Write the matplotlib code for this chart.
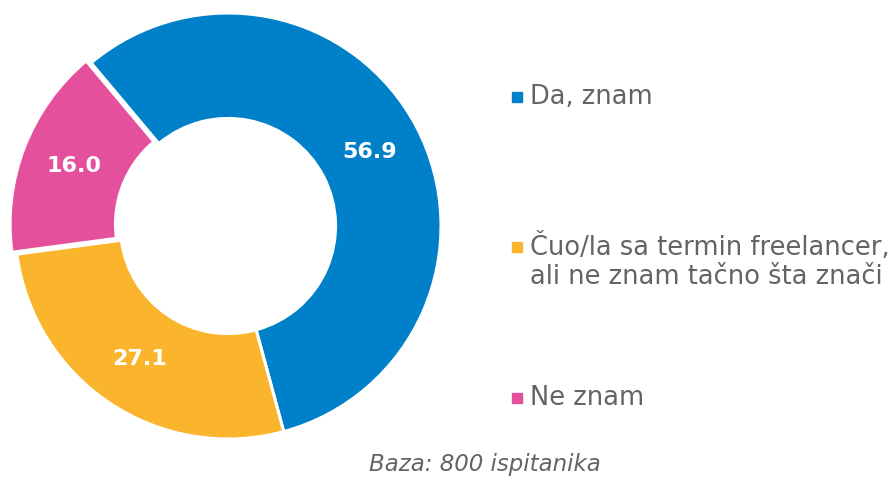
import numpy as np
import matplotlib.pyplot as plt
from matplotlib.patches import Rectangle

# Share of respondents per answer (%)
categories = ['Da, znam',
              'Čuo/la sa termin freelancer,\nali ne znam tačno šta znači',
              'Ne znam']
values = [56.9, 27.1, 16.0]
colors = ['#0080C8', '#FBB52D', '#E4509C']
note = 'Baza: 800 ispitanika'

plt.rcParams['font.family'] = ['DejaVu Sans']
text_gray = '#646464'

fig = plt.figure(figsize=(8.94, 4.78), dpi=100)
ax = fig.add_axes([8 / 894, 32 / 478, 440 / 894, 440 / 478])

R = 213 / 220
wedges, _ = ax.pie(values, colors=colors, startangle=130, counterclock=False,
                   radius=R, explode=[0, 0, 0.024],
                   wedgeprops=dict(width=0.495 * R, edgecolor='white',
                                   linewidth=2.2))
ax.set_xlim(-1, 1)
ax.set_ylim(-1, 1)
ax.set_aspect('equal')
ax.axis('off')

# value labels in the middle of each ring segment
for w, v in zip(wedges, values):
    ang = np.deg2rad((w.theta1 + w.theta2) / 2)
    r = 0.75 * R
    cx, cy = w.center
    ax.text(cx + r * np.cos(ang), cy + r * np.sin(ang), f'{v:.1f}',
            ha='center', va='center', color='white', fontsize=16,
            fontweight='bold')

# legend drawn by hand to keep the uneven spacing
legend_y = [97, 247, 398]
for lab, c, y in zip(categories, colors, legend_y):
    fig.patches.append(Rectangle((512 / 894, (478 - y - 5) / 478),
                                 10 / 894, 10 / 478, color=c,
                                 transform=fig.transFigure, figure=fig))
    for i, line in enumerate(lab.split('\n')):
        fig.text(530 / 894, (478 - y - i * 30) / 478, line, ha='left',
                 va='center', color=text_gray, fontsize=18.5)

fig.text(485 / 894, (478 - 465) / 478, note, ha='center', va='center',
         color=text_gray, fontsize=16.5, style='italic')

fig.savefig('out.png', dpi=100)
